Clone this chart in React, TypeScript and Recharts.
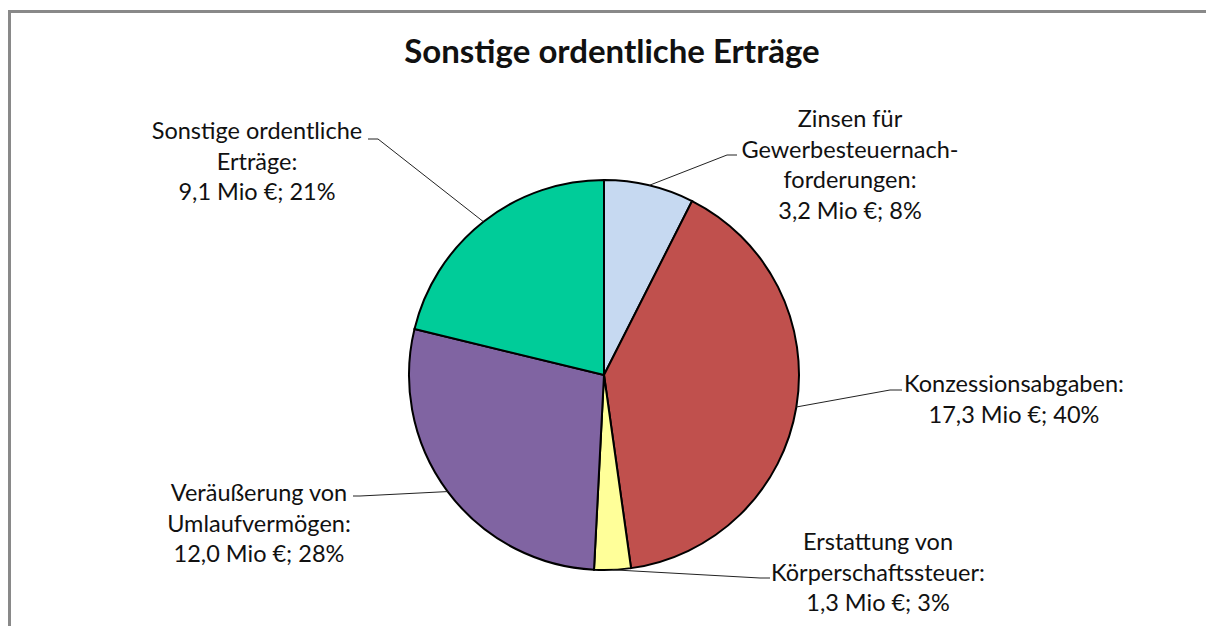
import React from "react";
import { PieChart, Pie, Cell } from "recharts";

const categories = [
  "Zinsen für Gewerbesteuernachforderungen",
  "Konzessionsabgaben",
  "Erstattung von Körperschaftssteuer",
  "Veräußerung von Umlaufvermögen",
  "Sonstige ordentliche Erträge",
];
const labelLines = [
  ["Zinsen für", "Gewerbesteuernach-", "forderungen:"],
  ["Konzessionsabgaben:"],
  ["Erstattung von", "Körperschaftssteuer:"],
  ["Veräußerung von", "Umlaufvermögen:"],
  ["Sonstige ordentliche", "Erträge:"],
];
const valuesMio = [3.2, 17.3, 1.3, 12.0, 9.1];
const shownPercent = [8, 40, 3, 28, 21];
const colors = ["#C6D9F1", "#C0504D", "#FFFF99", "#8064A2", "#00CC99"];

// label layout, relative to the pie centre: text centre x, first line y, leader elbow, leader end
const labelLayout = [
  { tx: 246, ty: -257, ex: 123, ey: -220, hx: 133 },
  { tx: 410, ty: 8, ex: 286, ey: 15, hx: 298 },
  { tx: 274, ty: 166, ex: 156, ey: 203, hx: 166 },
  { tx: -345, ty: 117, ex: -244, ey: 121, hx: -251 },
  { tx: -347, ty: -245, ex: -226, ey: -236, hx: -236 },
];

const data = categories.map((name, i) => ({ name, value: valuesMio[i] }));

const RAD = Math.PI / 180;
const FONT = "Lato, 'Open Sans', sans-serif";
const LINE_H = 30.5;

const renderLabel = (props: any) => {
  const { cx, cy, midAngle, outerRadius, index } = props;
  const lay = labelLayout[index];
  const sx = cx + outerRadius * Math.cos(-midAngle * RAD);
  const sy = cy + outerRadius * Math.sin(-midAngle * RAD);
  const lines = [
    ...labelLines[index],
    `${valuesMio[index].toFixed(1).replace(".", ",")} Mio €; ${shownPercent[index]}%`,
  ];
  return (
    <g key={`lbl-${index}`}>
      <polyline
        points={`${sx},${sy} ${cx + lay.ex},${cy + lay.ey} ${cx + lay.hx},${cy + lay.ey}`}
        fill="none"
        stroke="#222"
        strokeWidth={1}
      />
      <text
        x={cx + lay.tx}
        y={cy + lay.ty}
        textAnchor="middle"
        dominantBaseline="central"
        fontFamily={FONT}
        fontSize={23.5}
        fill="#111"
      >
        {lines.map((l, j) => (
          <tspan key={j} x={cx + lay.tx} dy={j === 0 ? 0 : LINE_H}>
            {l}
          </tspan>
        ))}
      </text>
    </g>
  );
};

export default function App() {
  return (
    <div
      style={{
        position: "absolute",
        left: 0,
        top: 0,
        width: 1206,
        height: 626,
        overflow: "hidden",
        background: "#fff",
      }}
    >
      <div
        style={{
          position: "absolute",
          left: 8,
          top: 10,
          width: 1300,
          height: 700,
          borderLeft: "3px solid #898989",
          borderTop: "3px solid #898989",
        }}
      />
      <div
        style={{
          position: "absolute",
          left: 0,
          top: 30,
          width: 1224,
          textAlign: "center",
          fontFamily: FONT,
          fontWeight: 700,
          fontSize: 33,
          lineHeight: "40px",
          color: "#111",
        }}
      >
        Sonstige ordentliche Erträge
      </div>
      <div style={{ position: "absolute", left: 0, top: 0 }}>
        <PieChart width={1206} height={626}>
          <Pie
            data={data}
            dataKey="value"
            nameKey="name"
            cx={599}
            cy={370}
            outerRadius={195}
            startAngle={90}
            endAngle={-270}
            stroke="#000"
            strokeWidth={2}
            label={renderLabel}
            labelLine={false}
            isAnimationActive={false}
          >
            {data.map((d, i) => (
              <Cell key={d.name} fill={colors[i]} />
            ))}
          </Pie>
        </PieChart>
      </div>
    </div>
  );
}
